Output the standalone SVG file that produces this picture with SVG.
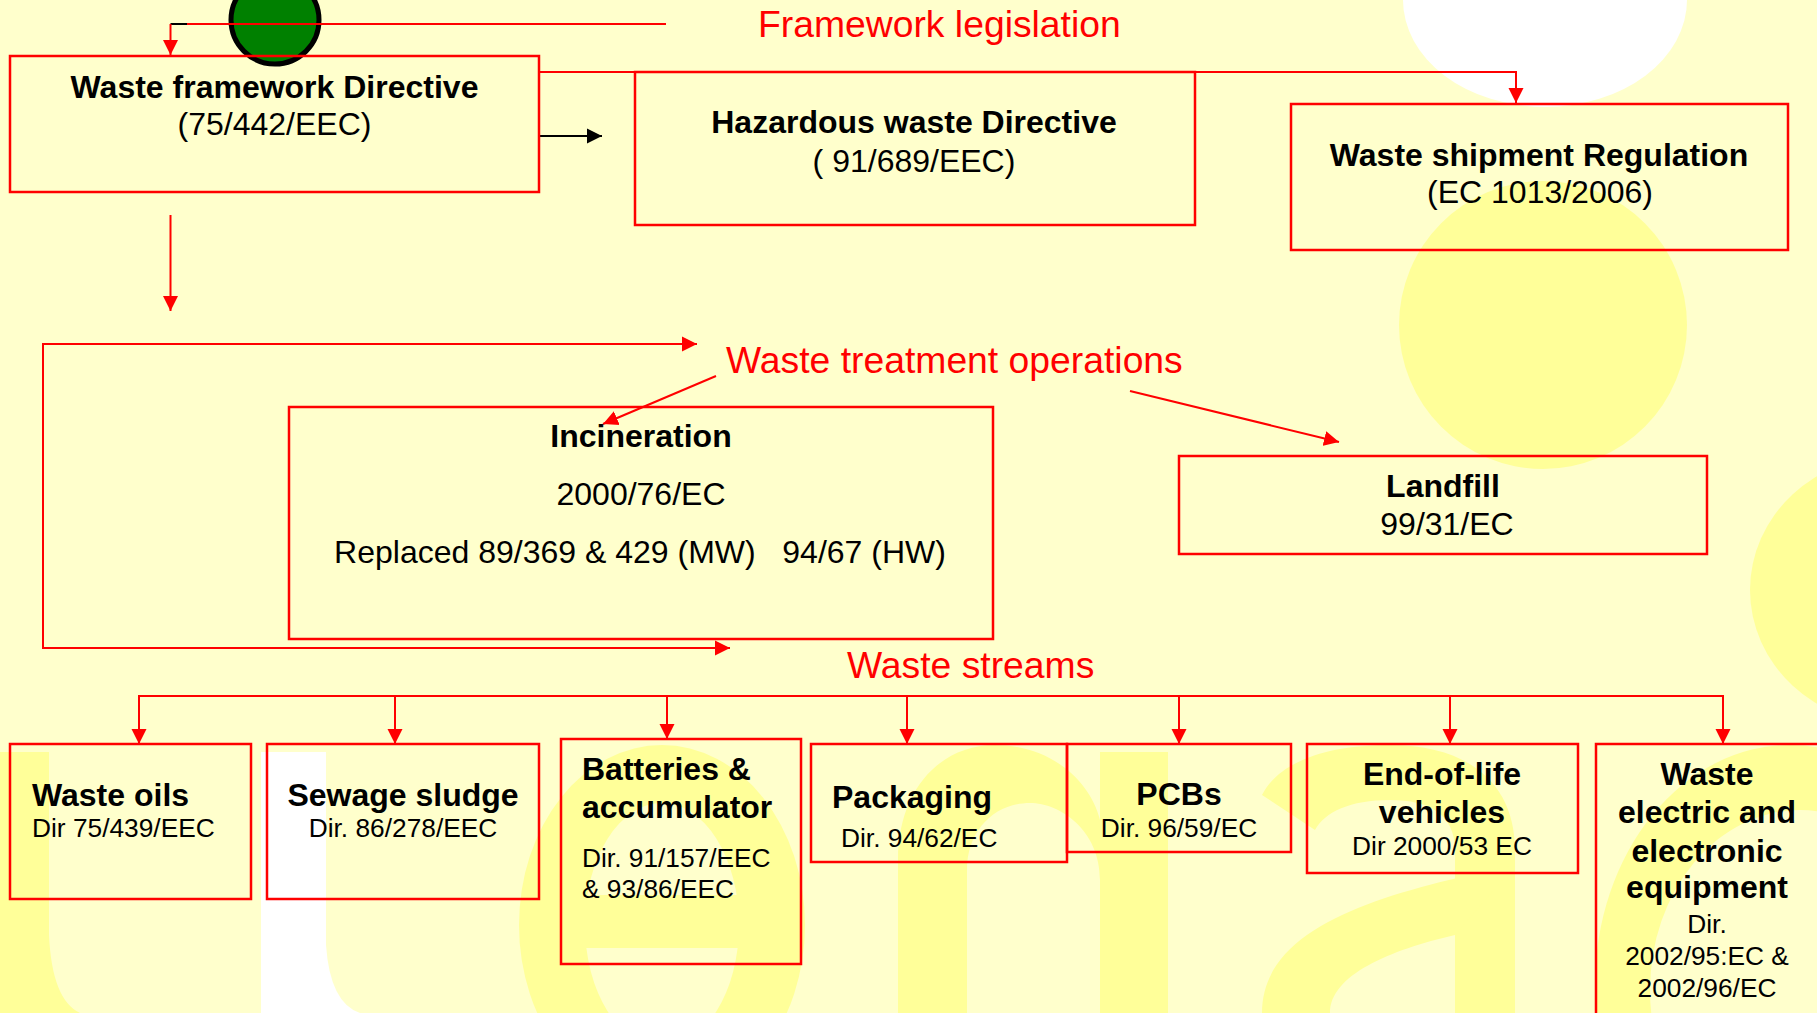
<svg xmlns="http://www.w3.org/2000/svg" width="1817" height="1013" viewBox="0 0 1817 1013">
<style>
.box{fill:none;stroke:#FF0000;stroke-width:2.5}
.ln{fill:none;stroke:#FF0000;stroke-width:2}
.b{font-family:"Liberation Sans",Arial,sans-serif;font-weight:bold;font-size:32px;fill:#000}
.r{font-family:"Liberation Sans",Arial,sans-serif;font-size:32px;fill:#000}
.s{font-family:"Liberation Sans",Arial,sans-serif;font-size:26.3px;fill:#000}
.h{font-family:"Liberation Sans",Arial,sans-serif;font-size:37.3px;fill:#FF0000}
.c{text-anchor:middle}
.y{fill:#FFFF99}
.bg{fill:#FFFFCC}
</style>
<defs>
<marker id="ar" markerUnits="userSpaceOnUse" markerWidth="16" markerHeight="16" viewBox="0 0 16 16" refX="15" refY="8" orient="auto"><path d="M0,0.5 L15,8 L0,15.5 Z" fill="#FF0000"/></marker>
<marker id="ak" markerUnits="userSpaceOnUse" markerWidth="16" markerHeight="16" viewBox="0 0 16 16" refX="15" refY="8" orient="auto"><path d="M0,0.5 L15,8 L0,15.5 Z" fill="#000"/></marker>
</defs>
<g id="background">
<rect width="1817" height="1013" class="bg"/>
<ellipse cx="1545" cy="0" rx="142" ry="107" fill="#FFFFFF"/>
<circle cx="1543" cy="325" r="144" class="y"/>
<ellipse cx="1895" cy="590" rx="145" ry="135" class="y"/>
<path d="M0 752 H49 V935 Q52 1000 80 1013 H0 Z" class="y"/>
<path d="M261 752 H326 V945 Q330 1003 360 1013 H261 Z" fill="#FFFFFF"/>
<ellipse cx="662" cy="925" rx="143" ry="180" class="y"/>
<ellipse cx="662" cy="925" rx="77" ry="122" class="bg"/>
<rect x="585" y="895" width="218" height="53" class="y"/>
<path d="M898 1013 V860 C898 790 940 745 995 745 C1050 745 1090 780 1100 820 V752 H1168 V1013 H1100 V880 C1100 830 1060 803 1030 803 C995 803 967 830 967 870 V1013 Z" class="y"/>
<path d="M1262 795 C1280 760 1330 745 1390 745 C1470 745 1515 785 1515 850 V1013 H1455 V850 C1455 815 1430 800 1390 800 C1350 800 1325 812 1315 830 Z" class="y"/>
<path d="M1515 865 C1400 890 1262 920 1262 1013 H1330 C1330 975 1390 950 1455 935 Z" class="y"/>
<ellipse cx="1790" cy="985" rx="195" ry="240" class="y"/>
<ellipse cx="1800" cy="990" rx="150" ry="180" class="bg"/>
<circle cx="275" cy="20" r="44" fill="#008000" stroke="#000" stroke-width="5"/>
</g>
<g id="connectors">
<path class="ln" d="M666 24 H187"/>
<path d="M187 24 H170.5" stroke="#000" stroke-width="2"/>
<path class="ln" d="M170.5 24 V55" marker-end="url(#ar)"/>
<path class="ln" d="M539 72 H1516 V103" marker-end="url(#ar)"/>
<path d="M539 136 H602" stroke="#000" stroke-width="2" marker-end="url(#ak)"/>
<path class="ln" d="M170.5 215 V311" marker-end="url(#ar)"/>
<path class="ln" d="M43 496 V344 H697" marker-end="url(#ar)"/>
<path class="ln" d="M43 496 V648 H730" marker-end="url(#ar)"/>
<path class="ln" d="M716 376 L603 424" marker-end="url(#ar)"/>
<path class="ln" d="M1130 391 L1339 442" marker-end="url(#ar)"/>
<path class="ln" d="M139 744 V696 H1723 V744" marker-end="url(#ar)"/>
<path class="ln" d="M139 696 V744" marker-end="url(#ar)"/>
<path class="ln" d="M395 696 V744" marker-end="url(#ar)"/>
<path class="ln" d="M667 696 V739" marker-end="url(#ar)"/>
<path class="ln" d="M907 696 V744" marker-end="url(#ar)"/>
<path class="ln" d="M1179 696 V744" marker-end="url(#ar)"/>
<path class="ln" d="M1450 696 V744" marker-end="url(#ar)"/>
</g>
<g id="label-framework"><text class="h" x="758" y="37">Framework legislation</text></g>
<g id="label-treatment"><text class="h" x="726" y="373">Waste treatment operations</text></g>
<g id="label-streams"><text class="h" x="847" y="678">Waste streams</text></g>
<g id="node-wfd">
<rect class="box" x="10" y="56" width="529" height="136"/>
<text class="b c" x="274.5" y="98">Waste framework Directive</text>
<text class="r c" x="274.5" y="135">(75/442/EEC)</text>
</g>
<g id="node-hwd">
<rect class="box" x="635" y="72" width="560" height="153"/>
<text class="b c" x="914" y="133">Hazardous waste Directive</text>
<text class="r c" x="914" y="172">( 91/689/EEC)</text>
</g>
<g id="node-wsr">
<rect class="box" x="1291" y="104" width="497" height="146"/>
<text class="b c" x="1539" y="166">Waste shipment Regulation</text>
<text class="r c" x="1540" y="203">(EC 1013/2006)</text>
</g>
<g id="node-incineration">
<rect class="box" x="289" y="407" width="704" height="232"/>
<text class="b c" x="641" y="447">Incineration</text>
<text class="r c" x="641" y="505">2000/76/EC</text>
<text class="r c" x="640" y="563" xml:space="preserve">Replaced 89/369 &amp; 429 (MW)   94/67 (HW)</text>
</g>
<g id="node-landfill">
<rect class="box" x="1179" y="456" width="528" height="98"/>
<text class="b c" x="1443" y="497">Landfill</text>
<text class="r c" x="1447" y="535">99/31/EC</text>
</g>
<g id="node-oils">
<rect class="box" x="10" y="744" width="241" height="155"/>
<text class="b" x="32" y="806">Waste oils</text>
<text class="s" x="32" y="837">Dir 75/439/EEC</text>
</g>
<g id="node-sludge">
<rect class="box" x="267" y="744" width="272" height="155"/>
<text class="b c" x="403" y="806">Sewage sludge</text>
<text class="s c" x="403" y="837">Dir. 86/278/EEC</text>
</g>
<g id="node-batteries">
<rect class="box" x="561" y="739" width="240" height="225"/>
<text class="b" x="582" y="780">Batteries &amp;</text>
<text class="b" x="582" y="818">accumulator</text>
<text class="s" x="582" y="867">Dir. 91/157/EEC</text>
<text class="s" x="582" y="898">&amp; 93/86/EEC</text>
</g>
<g id="node-pcbs">
<rect class="box" x="1067" y="744" width="224" height="108"/>
<text class="b c" x="1179" y="805">PCBs</text>
<text class="s c" x="1179" y="837">Dir. 96/59/EC</text>
</g>
<g id="node-packaging">
<rect class="box" x="811" y="744" width="256" height="118"/>
<text class="b" x="832" y="808">Packaging</text>
<text class="s" x="841" y="847">Dir. 94/62/EC</text>
</g>
<g id="node-elv">
<rect class="box" x="1307" y="744" width="271" height="129"/>
<text class="b c" x="1442" y="785">End-of-life</text>
<text class="b c" x="1442" y="823">vehicles</text>
<text class="s c" x="1442" y="855">Dir 2000/53 EC</text>
</g>
<g id="node-weee">
<rect class="box" x="1596" y="744" width="260" height="300"/>
<text class="b c" x="1707" y="785">Waste</text>
<text class="b c" x="1707" y="823">electric and</text>
<text class="b c" x="1707" y="862">electronic</text>
<text class="b c" x="1707" y="898">equipment</text>
<text class="s c" x="1707" y="933">Dir.</text>
<text class="s c" x="1707" y="965">2002/95:EC &amp;</text>
<text class="s c" x="1707" y="997">2002/96/EC</text>
</g>
</svg>
